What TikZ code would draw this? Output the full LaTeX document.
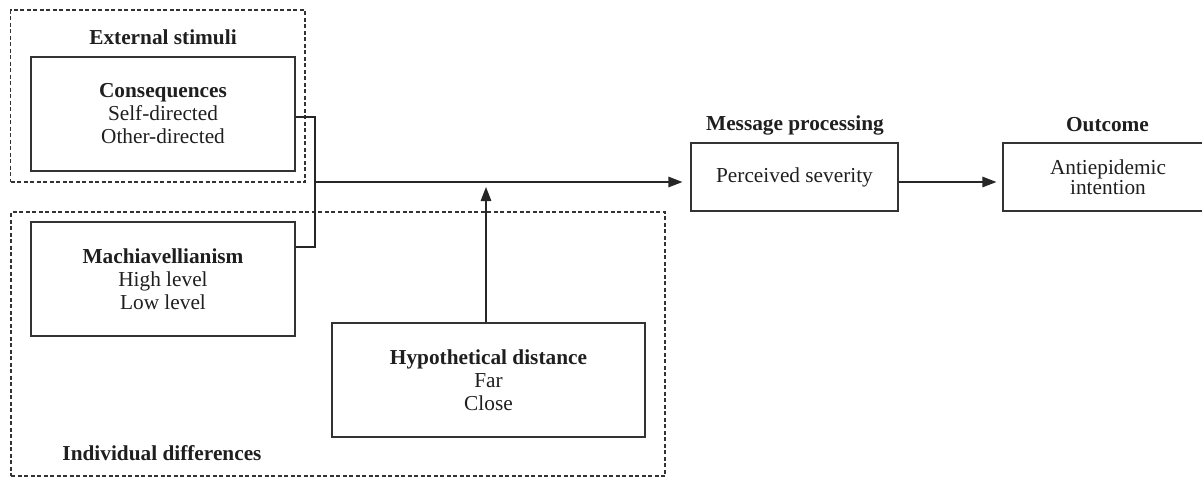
\documentclass[tikz,border=0pt]{standalone}
\usepackage{fontspec}
\setmainfont{Liberation Serif}
\usetikzlibrary{arrows.meta}
\begin{document}
\begin{tikzpicture}[x=1pt,y=-1pt,
  every node/.style={text=black!88},
  txt/.style={font=\fontsize{21.3}{23}\selectfont, align=center, inner sep=0pt},
  hd/.style={font=\fontsize{21.3}{23}\selectfont\bfseries, inner sep=0pt},
  boxx/.style={draw=black!80, line width=1.2pt, txt},
  grp/.style={draw=black!80, line width=1.1pt, dash pattern=on 4pt off 2.5pt, inner sep=0pt},
  conn/.style={draw=black!85, line width=1.3pt},
  arr/.style={conn, -{Triangle[length=14pt,width=10.5pt]}}
]
\path[use as bounding box, clip] (0,0) rectangle (1202,477);
\fill[white] (0,0) rectangle (1202,477);

% grouping boxes
\node[grp, minimum width=294.5pt, minimum height=172pt] (ext) at (157.75,96) {};
\node[grp, minimum width=654pt, minimum height=264pt] (ind) at (338,344) {};

% headings
\node[hd] (exth) at (163,37) {External stimuli};
\node[hd] (indh) at (162,453) {Individual differences};
\node[hd] (msgh) at (795,125) {Message processing};
\node[hd] (outh) at (1107.5,125) {Outcome};

% boxes
\node[boxx, minimum width=264pt, minimum height=114pt] (cons) at (163,114)
  {\textbf{Consequences}\\Self-directed\\Other-directed};
\node[boxx, minimum width=264pt, minimum height=114pt] (mach) at (163,279)
  {\textbf{Machiavellianism}\\High level\\Low level};
\node[boxx, minimum width=313pt, minimum height=114pt] (hyp) at (488.5,380)
  {\textbf{Hypothetical distance}\\Far\\Close};
\node[boxx, minimum width=207pt, minimum height=68pt] (perc) at (794.5,177)
  {Perceived severity};
\node[boxx, minimum width=210pt, minimum height=68pt, font=\fontsize{21.3}{17}\selectfont] (outc) at (1108,177)
  {Antiepidemic\\intention};

% connectors
\coordinate (bra) at (315,117);
\coordinate (brb) at (315,247);
\coordinate (brm) at (315,182);
\coordinate (hit) at (486,187);
\draw[conn] (cons.east |- bra) -- (bra) -- (brb) -- (mach.east |- brb);
\draw[arr, shorten >=8pt] (brm) -- (perc.west |- brm);
\draw[arr] (hyp.north -| hit) -- (hit);
\draw[arr, shorten >=6pt] (perc.east |- brm) -- (outc.west |- brm);
\end{tikzpicture}
\end{document}
